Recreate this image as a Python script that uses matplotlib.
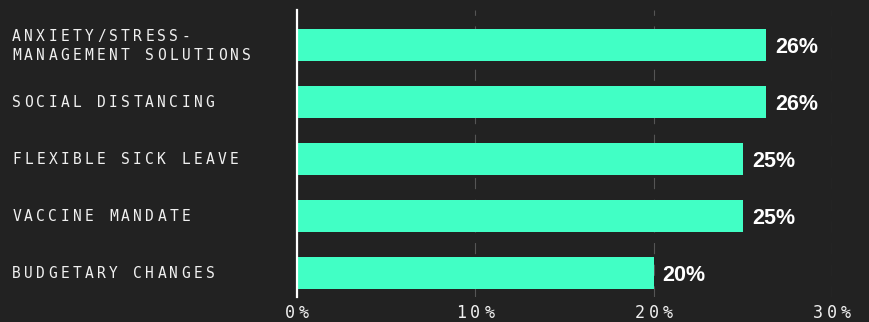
import matplotlib.pyplot as plt
from matplotlib.transforms import offset_copy, blended_transform_factory

categories = [
    "ANXIETY/STRESS-\nMANAGEMENT SOLUTIONS",
    "SOCIAL DISTANCING",
    "FLEXIBLE SICK LEAVE",
    "VACCINE MANDATE",
    "BUDGETARY CHANGES",
]
values = [26.3, 26.3, 25.0, 25.0, 20.0]
value_labels = ["26%", "26%", "25%", "25%", "20%"]
x_ticks = [0, 10, 20, 30]
x_tick_labels = ["0%", "10%", "20%", "30%"]

BG = "#222222"
BAR = "#41FFC5"
MONO = "DejaVu Sans Mono"

W, H = 869, 322
fig = plt.figure(figsize=(W / 100, H / 100), dpi=100, facecolor=BG)
ax = fig.add_axes([297 / W, (H - 297) / H, (832 - 297) / W, (297 - 10) / H])
ax.set_facecolor(BG)


def spaced_text(x, y, s, transform, pitch, size, cap, line_px=19, align="left"):
    # monospace text with extra letter spacing, drawn char by char (offsets in pixels)
    lines = s.split("\n")
    for li, line in enumerate(lines):
        dy = ((len(lines) - 1) / 2 - li) * line_px - cap / 2
        if align == "center":
            x0 = -(len(line) - 1) / 2 * pitch
        else:
            x0 = 4.5
        for i, ch in enumerate(line):
            if ch == " ":
                continue
            tr = offset_copy(transform, fig=fig, x=x0 + i * pitch, y=dy, units="dots")
            ax.text(x, y, ch, transform=tr, ha="center", va="baseline",
                    fontsize=size, family=MONO, color="#f0f0f0", clip_on=False)


ypos = list(range(len(categories)))
ax.barh(ypos, values, height=32 / 57, color=BAR, zorder=2)
ax.set_ylim(len(categories) - 1 + 24 / 57, -35 / 57)
ax.set_xlim(0, 30)

ax.set_xticks(x_ticks)
ax.set_xticklabels([""] * len(x_ticks))
ax.set_yticks([])
ax.tick_params(length=0)
ax.xaxis.grid(True, color="#555555", linestyle=(0, (10, 9.5)), linewidth=0.8, zorder=0)
ax.set_axisbelow(True)

for side in ["top", "right", "bottom"]:
    ax.spines[side].set_visible(False)
ax.spines["left"].set_color("white")
ax.spines["left"].set_linewidth(1.6)
ax.spines["left"].set_zorder(3)

for i, (v, lab) in enumerate(zip(values, value_labels)):
    ax.annotate(lab, (v, i), xytext=(6.5, -1.5), textcoords="offset points",
                ha="left", va="center", fontsize=15.5, fontweight="bold",
                family="Liberation Sans", color="white")

ylab_tr = blended_transform_factory(fig.transFigure, ax.transData)
for i, cat in enumerate(categories):
    spaced_text(12 / W, i, cat, ylab_tr, pitch=12.1, size=10.5, cap=10.5)

xt_tr = blended_transform_factory(ax.transData, fig.transFigure)
for t, lab in zip(x_ticks, x_tick_labels):
    spaced_text(t, 4.5 / H, lab, xt_tr, pitch=14, size=12, cap=0, align="center")

fig.savefig("out.png", dpi=100, facecolor=BG)
